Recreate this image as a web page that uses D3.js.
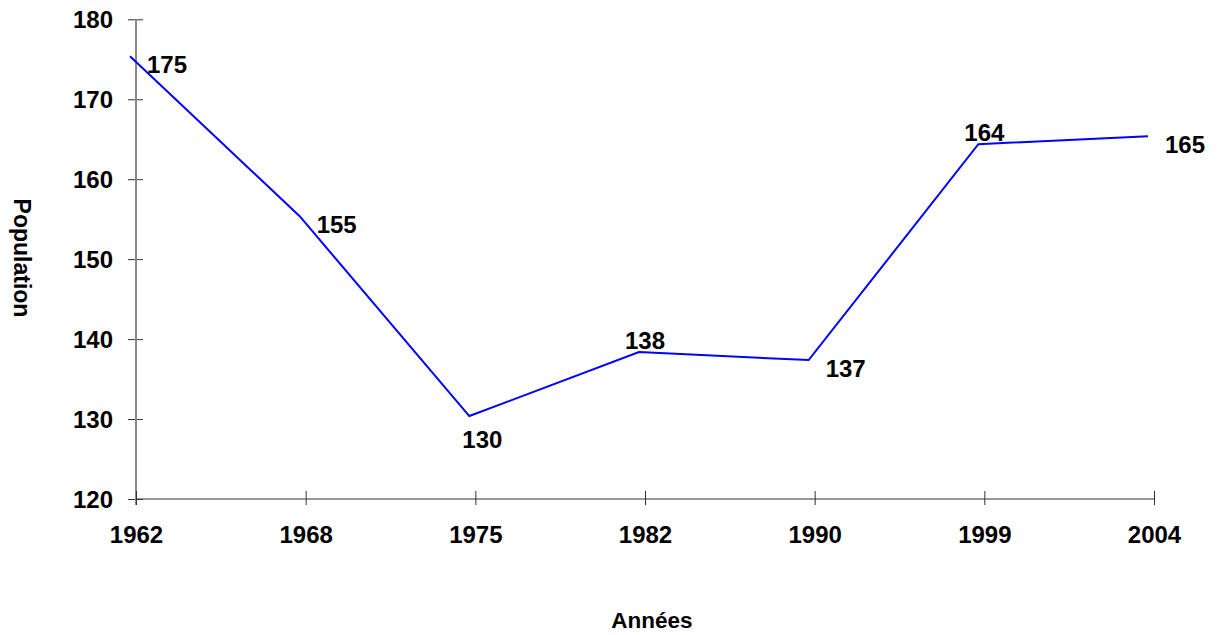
<!DOCTYPE html>
<html lang="fr">
  <head>
    <meta charset="UTF-8" />
    <title>Population</title>
    <script src="https://cdn.jsdelivr.net/npm/d3@7"></script>
    <style>
      body {
        margin: 0;
        background: #fff;
      }
      svg text {
        font-family: "Liberation Sans", Arial, sans-serif;
        font-weight: bold;
        fill: #000;
      }
    </style>
  </head>

  <body>
    <div id="chart"></div>
    <script>
      // données
      const years = ["1962", "1968", "1975", "1982", "1990", "1999", "2004"];
      const population = [175, 155, 130, 138, 137, 164, 165];
      const yTicks = [120, 130, 140, 150, 160, 170, 180];
      // côté de l'étiquette par point
      const labelSide = ["right", "right", "below", "above", "right", "above", "right"];

      const width = 1222;
      const height = 635;

      const x = d3.scalePoint().domain(years).range([136, 1154]);
      const y = d3.scaleLinear().domain([120, 180]).range([499, 19.3]);

      const svg = d3
        .select("#chart")
        .append("svg")
        .attr("width", width)
        .attr("height", height);

      // axe Y
      const gy = svg
        .append("g")
        .attr("transform", "translate(136,0)")
        .call(d3.axisLeft(y).tickValues(yTicks).tickSize(8).tickPadding(0));
      gy.select(".domain").remove();
      gy.append("line")
        .attr("x1", 0)
        .attr("x2", 0)
        .attr("y1", y(180))
        .attr("y2", 505)
        .attr("stroke", "#888")
        .attr("stroke-width", 2);
      gy.selectAll(".tick line")
        .attr("x1", -8)
        .attr("x2", 7)
        .attr("stroke", "#333");
      gy.selectAll(".tick text")
        .attr("x", -23)
        .attr("dy", "0.36em")
        .attr("font-size", 24);

      // axe X
      const gx = svg
        .append("g")
        .attr("transform", "translate(0,499)")
        .call(d3.axisBottom(x).tickSize(6));
      gx.select(".domain").remove();
      gx.append("line")
        .attr("x1", x(years[0]))
        .attr("x2", x(years[years.length - 1]))
        .attr("stroke", "#333");
      gx.selectAll(".tick line")
        .attr("y1", -8)
        .attr("y2", 6)
        .attr("stroke", "#333");
      gx.selectAll(".tick text")
        .attr("y", 44)
        .attr("dy", 0)
        .attr("font-size", 24);

      // ligne
      const line = d3
        .line()
        .x((d, i) => x(years[i]))
        .y((d) => y(d));

      svg
        .append("path")
        .datum(population)
        .attr("transform", "translate(-6,-3)")
        .attr("fill", "none")
        .attr("stroke", "#0000ff")
        .attr("stroke-width", 2)
        .attr("d", line);

      // étiquettes
      const offsets = {
        right: { dx: 11, dy: 5, anchor: "start" },
        below: { dx: 7, dy: 20, anchor: "middle" },
        above: { dx: 0, dy: -15, anchor: "middle" },
      };

      svg
        .selectAll(".label")
        .data(population)
        .enter()
        .append("text")
        .attr("class", "label")
        .attr("font-size", 24)
        .attr("text-anchor", (d, i) => offsets[labelSide[i]].anchor)
        .attr("x", (d, i) => x(years[i]) + offsets[labelSide[i]].dx)
        .attr("y", (d, i) => y(d) + offsets[labelSide[i]].dy)
        .attr("dy", "0.36em")
        .text((d) => d);

      // titres des axes
      svg
        .append("text")
        .attr("font-size", 22.5)
        .attr("text-anchor", "middle")
        .attr("x", 652)
        .attr("y", 628)
        .text("Années");

      svg
        .append("text")
        .attr("font-size", 23)
        .attr("text-anchor", "middle")
        .attr("transform", "translate(14,258) rotate(90)")
        .text("Population");
    </script>
  </body>
</html>
